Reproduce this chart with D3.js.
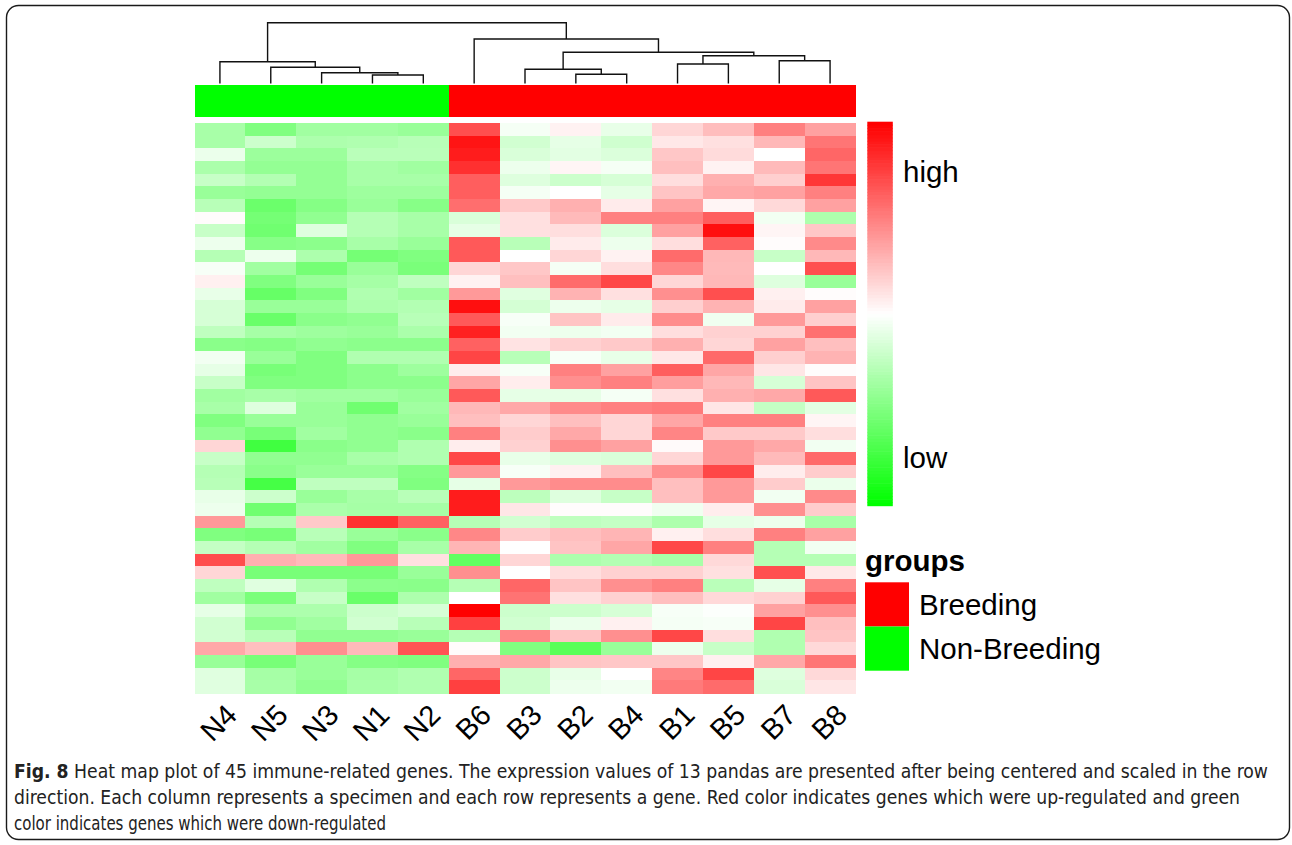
<!DOCTYPE html>
<html>
<head>
<meta charset="utf-8">
<script src="https://cdn.jsdelivr.net/npm/d3@7"></script>
<style>
  html, body { margin: 0; padding: 0; background: #fff; }
  svg { display: block; }
</style>
</head>
<body>
<svg id="chart" width="1292" height="845"></svg>
<script>
// ---------------- DATA ----------------
const samples = ["N4","N5","N3","N1","N2","B6","B3","B2","B4","B1","B5","B7","B8"];
const sampleGroups = ["Non-Breeding","Non-Breeding","Non-Breeding","Non-Breeding","Non-Breeding",
                      "Breeding","Breeding","Breeding","Breeding","Breeding","Breeding","Breeding","Breeding"];
const groupNames = ["Breeding","Non-Breeding"];
const groupColors = ["#FF0000","#00FF00"];
const scaleLabels = ["high","low"];
const scaleDomain = [-1, 0, 1];
const scaleColors = ["#00FF00","#FFFFFF","#FF0000"];

// scaled expression (row-centred), 45 genes x 13 samples, columns in sample order
const expr = [
  [-0.34,-0.50,-0.37,-0.37,-0.40, 0.69,-0.04, 0.05,-0.09, 0.16, 0.26, 0.50, 0.37],
  [-0.34,-0.20,-0.32,-0.31,-0.28, 0.92,-0.18,-0.10,-0.19, 0.09, 0.12, 0.28, 0.54],
  [-0.08,-0.39,-0.39,-0.27,-0.27, 0.89,-0.15,-0.11,-0.14, 0.22, 0.14, 0.00, 0.60],
  [-0.33,-0.42,-0.42,-0.34,-0.37, 0.81,-0.07, 0.04,-0.04, 0.25, 0.05, 0.27, 0.54],
  [-0.22,-0.30,-0.42,-0.34,-0.34, 0.63,-0.13,-0.20,-0.16, 0.13, 0.31, 0.19, 0.79],
  [-0.40,-0.42,-0.42,-0.38,-0.38, 0.63,-0.04, 0.00,-0.10, 0.23, 0.34, 0.37, 0.50],
  [-0.28,-0.58,-0.48,-0.40,-0.47, 0.57, 0.21, 0.31, 0.08, 0.37, 0.04, 0.15, 0.37],
  [ 0.01,-0.54,-0.43,-0.29,-0.34,-0.15, 0.12, 0.27, 0.50, 0.50, 0.63,-0.05,-0.32],
  [-0.22,-0.56,-0.13,-0.29,-0.34,-0.10, 0.12, 0.13,-0.14, 0.37, 0.94, 0.04, 0.22],
  [-0.07,-0.47,-0.45,-0.34,-0.40, 0.65,-0.28, 0.08,-0.07, 0.13, 0.62, 0.01, 0.46],
  [-0.29,-0.07,-0.32,-0.54,-0.50, 0.65, 0.00, 0.16, 0.05, 0.58, 0.28,-0.22, 0.28],
  [-0.03,-0.37,-0.54,-0.40,-0.52, 0.16, 0.22,-0.04, 0.13, 0.47, 0.27, 0.00, 0.69],
  [ 0.06,-0.50,-0.40,-0.35,-0.25, 0.05, 0.25, 0.58, 0.72, 0.16, 0.28,-0.13,-0.40],
  [-0.09,-0.60,-0.50,-0.31,-0.37, 0.40,-0.12, 0.30, 0.12, 0.44, 0.69, 0.06, 0.01],
  [-0.16,-0.40,-0.40,-0.32,-0.30, 0.94,-0.17,-0.07,-0.10, 0.19, 0.30, 0.08, 0.37],
  [-0.16,-0.59,-0.46,-0.43,-0.28, 0.65,-0.03, 0.23, 0.08, 0.45,-0.06, 0.40, 0.19],
  [-0.25,-0.35,-0.38,-0.40,-0.33, 0.87,-0.05,-0.07,-0.05, 0.13, 0.18, 0.18, 0.56],
  [-0.46,-0.48,-0.43,-0.45,-0.45, 0.62, 0.11, 0.18, 0.21, 0.31, 0.16, 0.37, 0.25],
  [-0.05,-0.40,-0.50,-0.31,-0.31, 0.73,-0.28,-0.03,-0.09, 0.09, 0.59, 0.19, 0.30],
  [-0.10,-0.53,-0.50,-0.45,-0.38, 0.07,-0.03, 0.50, 0.37, 0.63, 0.35, 0.10, 0.01],
  [-0.22,-0.50,-0.50,-0.45,-0.45, 0.35, 0.07, 0.44, 0.50, 0.38, 0.28,-0.16, 0.23],
  [-0.37,-0.34,-0.37,-0.37,-0.40, 0.65,-0.10,-0.10,-0.04, 0.12, 0.31, 0.34, 0.65],
  [-0.34,-0.13,-0.40,-0.56,-0.37, 0.28, 0.34, 0.46, 0.50, 0.52, 0.10,-0.23,-0.11],
  [-0.50,-0.40,-0.40,-0.43,-0.40, 0.25, 0.16, 0.25, 0.16, 0.35, 0.50, 0.50, 0.04],
  [-0.43,-0.53,-0.37,-0.43,-0.46, 0.50, 0.20, 0.34, 0.16, 0.48, 0.21, 0.21, 0.13],
  [ 0.16,-0.75,-0.46,-0.43,-0.31, 0.07, 0.18, 0.44, 0.37, 0.02, 0.40, 0.34,-0.05],
  [-0.22,-0.43,-0.43,-0.34,-0.31, 0.72,-0.09,-0.13,-0.15, 0.16, 0.40, 0.27, 0.59],
  [-0.29,-0.46,-0.40,-0.40,-0.48, 0.40,-0.03, 0.06, 0.25, 0.44, 0.72, 0.07, 0.20],
  [-0.28,-0.73,-0.25,-0.25,-0.50,-0.10, 0.40, 0.45, 0.45, 0.25, 0.40, 0.20,-0.08],
  [-0.09,-0.20,-0.40,-0.34,-0.28, 0.89,-0.26,-0.13,-0.22, 0.25, 0.40,-0.05, 0.46],
  [-0.07,-0.56,-0.33,-0.35,-0.35, 0.89, 0.10, 0.01, 0.01,-0.06, 0.07, 0.44, 0.20],
  [ 0.40,-0.29, 0.21, 0.81, 0.62,-0.29,-0.18,-0.25,-0.23,-0.32,-0.10,-0.07,-0.34],
  [-0.50,-0.53,-0.28,-0.40,-0.46, 0.47, 0.20, 0.25, 0.29, 0.06, 0.13, 0.50, 0.37],
  [-0.23,-0.29,-0.37,-0.50,-0.34, 0.29, 0.00, 0.23, 0.35, 0.72, 0.50,-0.29,-0.05],
  [ 0.70, 0.31, 0.27, 0.40, 0.12,-0.62, 0.16,-0.32,-0.30,-0.34, 0.15,-0.29,-0.29],
  [ 0.16,-0.53,-0.53,-0.53,-0.40, 0.44, 0.00, 0.13, 0.18, 0.18, 0.12, 0.69, 0.09],
  [-0.25,-0.12,-0.31,-0.45,-0.46,-0.29, 0.60, 0.23, 0.44, 0.50,-0.27,-0.10, 0.50],
  [-0.37,-0.52,-0.22,-0.59,-0.32, 0.00, 0.55, 0.12, 0.18, 0.25, 0.15, 0.18, 0.65],
  [-0.10,-0.32,-0.32,-0.20,-0.16, 1.00,-0.20,-0.20,-0.16,-0.03,-0.01, 0.37, 0.44],
  [-0.18,-0.43,-0.37,-0.18,-0.28, 0.75,-0.18,-0.08, 0.06,-0.04,-0.03, 0.73, 0.25],
  [-0.18,-0.28,-0.43,-0.43,-0.40,-0.29, 0.47, 0.23, 0.44, 0.72, 0.13,-0.31, 0.23],
  [ 0.34, 0.25, 0.44, 0.27, 0.67, 0.01,-0.50,-0.65,-0.40,-0.07,-0.22,-0.31, 0.15],
  [-0.40,-0.53,-0.40,-0.48,-0.50, 0.31, 0.34, 0.23, 0.22, 0.22, 0.06, 0.34, 0.54],
  [-0.12,-0.35,-0.40,-0.35,-0.31, 0.60,-0.20,-0.09, 0.00, 0.48, 0.73,-0.13, 0.15],
  [-0.12,-0.34,-0.43,-0.34,-0.31, 0.75,-0.20,-0.07,-0.05, 0.52, 0.58,-0.15, 0.10]
];

// column clustering tree (merge heights in distance units)
const colTree = {h: 12.0, children: [
  {h: 4.2, children: [
    {leaf: "N4"},
    {h: 3.08, children: [
      {leaf: "N5"},
      {h: 2.0, children: [
        {leaf: "N3"},
        {h: 1.54, children: [{leaf: "N1"}, {leaf: "N2"}]}
      ]}
    ]}
  ]},
  {h: 8.74, children: [
    {leaf: "B6"},
    {h: 6.08, children: [
      {h: 2.68, children: [
        {leaf: "B3"},
        {h: 1.68, children: [{leaf: "B2"}, {leaf: "B4"}]}
      ]},
      {h: 5.4, children: [
        {h: 3.74, children: [{leaf: "B1"}, {leaf: "B5"}]},
        {h: 4.4, children: [{leaf: "B7"}, {leaf: "B8"}]}
      ]}
    ]}
  ]}
]};

const captionBold = "Fig. 8";
const captionLines = [
  " Heat map plot of 45 immune-related genes. The expression values of 13 pandas are presented after being centered and scaled in the row",
  "direction. Each column represents a specimen and each row represents a gene. Red color indicates genes which were up-regulated and green",
  "color indicates genes which were down-regulated"
];

// ---------------- DRAW ----------------
const svg = d3.select("#chart");
const FONT = "'Liberation Sans', Arial, Helvetica, sans-serif";

// outer frame
svg.append("rect")
  .attr("x", 6.5).attr("y", 5.5).attr("width", 1283).attr("height", 834)
  .attr("rx", 12).attr("ry", 12)
  .attr("fill", "#fff").attr("stroke", "#1a1a1a").attr("stroke-width", 1.4);

const hm = {x0: 194.5, x1: 855.5, y0: 123, y1: 693};
const nRows = expr.length;

const x = d3.scaleBand().domain(samples).range([hm.x0, hm.x1]).paddingInner(0).paddingOuter(0);
const y = d3.scaleBand().domain(d3.range(nRows)).range([hm.y0, hm.y1]);
const color = d3.scaleLinear().domain(scaleDomain).range(scaleColors).interpolate(d3.interpolateRgb).clamp(true);

// heatmap cells
const cells = [];
expr.forEach((row, r) => row.forEach((v, c) => cells.push({r, s: samples[c], v})));
svg.append("g").selectAll("rect").data(cells).join("rect")
  .attr("x", d => x(d.s))
  .attr("y", d => y(d.r))
  .attr("width", x.bandwidth() + 0.5)
  .attr("height", y.bandwidth() + 0.5)
  .attr("fill", d => color(d.v))
  .attr("shape-rendering", "crispEdges");

// group annotation bar
const annY0 = 85, annY1 = 116.5;
const groupColor = d3.scaleOrdinal().domain(groupNames).range(groupColors);
svg.append("g").selectAll("rect").data(samples).join("rect")
  .attr("x", s => x(s))
  .attr("y", annY0)
  .attr("width", x.bandwidth() + 0.5)
  .attr("height", annY1 - annY0)
  .attr("fill", (s, i) => groupColor(sampleGroups[i]))
  .attr("shape-rendering", "crispEdges");

// dendrogram
const root = d3.hierarchy(colTree);
const hY = d3.scaleLinear().domain([0, colTree.h]).range([82.7, 22.7]);
root.eachAfter(n => {
  if (!n.children) { n.px = x(n.data.leaf) + x.bandwidth() / 2; n.hh = 0; }
  else { n.px = d3.mean(n.children, c => c.px); n.hh = n.data.h; }
});
const dendroPath = d3.path();
root.each(n => {
  if (!n.children) return;
  const [a, b] = n.children;
  dendroPath.moveTo(a.px, hY(a.hh));
  dendroPath.lineTo(a.px, hY(n.hh));
  dendroPath.lineTo(b.px, hY(n.hh));
  dendroPath.lineTo(b.px, hY(b.hh));
});
svg.append("path").attr("d", dendroPath.toString())
  .attr("fill", "none").attr("stroke", "#111").attr("stroke-width", 1.4)
  .attr("stroke-linecap", "square");

// column labels (rotated 45°)
svg.append("g").selectAll("text").data(samples).join("text")
  .attr("transform", s => `translate(${x(s) + x.bandwidth() / 2 + 4},702) rotate(-45)`)
  .attr("text-anchor", "end")
  .attr("dy", "0.72em")
  .attr("font-family", FONT)
  .attr("font-size", 29)
  .attr("fill", "#000")
  .text(s => s);

// colour key
const key = {x: 867.3, w: 25.5, y0: 123.3, y1: 504};
const keyY = d3.scaleLinear().domain([scaleDomain[0], scaleDomain[2]]).range([key.y1, key.y0]);
const keySteps = d3.range(0, 120).map(i => scaleDomain[0] + (scaleDomain[2] - scaleDomain[0]) * i / 119);
const stepH = (key.y1 - key.y0) / 119;
svg.append("g").selectAll("rect").data(keySteps).join("rect")
  .attr("x", key.x).attr("width", key.w)
  .attr("y", v => keyY(v) - stepH / 2)
  .attr("height", stepH + 0.6)
  .attr("fill", v => color(v));

svg.append("g").selectAll("text").data(scaleLabels).join("text")
  .attr("x", 903)
  .attr("y", (d, i) => i === 0 ? 181.5 : 468)
  .attr("font-family", FONT).attr("font-size", 29.5).attr("fill", "#000")
  .text(d => d);

// groups legend
svg.append("text").attr("x", 865).attr("y", 571)
  .attr("font-family", FONT).attr("font-size", 29.5).attr("font-weight", "bold")
  .attr("fill", "#000").text("groups");
const legY = d3.scaleBand().domain(groupNames).range([582.3, 670.7]);
const leg = svg.append("g").selectAll("g").data(groupNames).join("g");
leg.append("rect")
  .attr("x", 865).attr("y", g => legY(g))
  .attr("width", 44).attr("height", legY.bandwidth())
  .attr("fill", g => groupColor(g));
leg.append("text")
  .attr("x", 919).attr("y", g => legY(g) + legY.bandwidth() / 2 + 10.5)
  .attr("font-family", FONT).attr("font-size", 29.5).attr("fill", "#000")
  .text(g => g);

// caption
const capFont = "'Liberation Sans Narrow', 'DejaVu Sans Condensed', 'Liberation Sans', sans-serif";
const capW = [1254, 1226, 372];
const capY = [777.5, 803.5, 829.5];
captionLines.forEach((line, i) => {
  const t = svg.append("text")
    .attr("x", 14).attr("y", capY[i])
    .attr("font-family", capFont).attr("font-size", 19.5).attr("fill", "#222")
    .attr("textLength", capW[i]).attr("lengthAdjust", "spacingAndGlyphs");
  if (i === 0) t.append("tspan").attr("font-weight", "bold").text(captionBold);
  t.append("tspan").text(line);
});
</script>
</body>
</html>
